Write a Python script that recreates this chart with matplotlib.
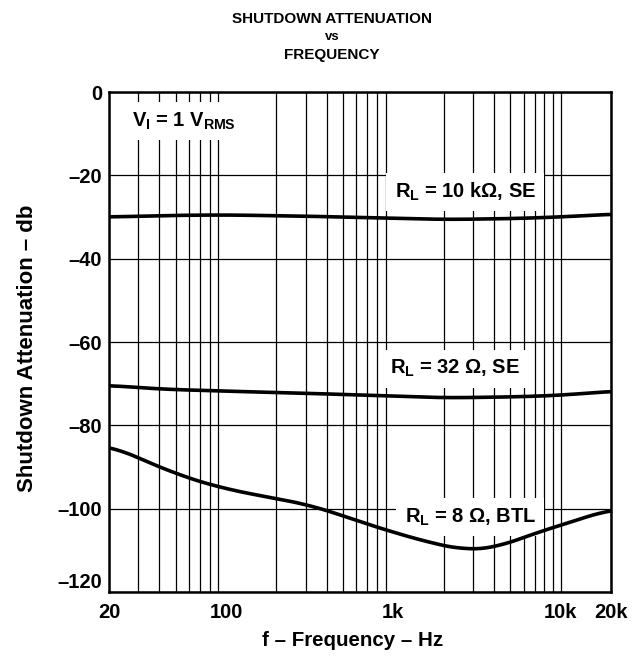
import numpy as np
import matplotlib
matplotlib.use("Agg")
import matplotlib.pyplot as plt
from matplotlib.ticker import FixedLocator, NullFormatter, NullLocator

plt.rcParams['font.family'] = ['Liberation Sans', 'DejaVu Sans']
plt.rcParams['font.weight'] = 'bold'
plt.rcParams['axes.labelweight'] = 'bold'
plt.rcParams['mathtext.fontset'] = 'custom'
plt.rcParams['mathtext.rm'] = 'Liberation Sans:bold'
plt.rcParams['mathtext.it'] = 'Liberation Sans:bold'
plt.rcParams['mathtext.bf'] = 'Liberation Sans:bold'

# data
f_10k = [20, 50, 100, 300, 1000, 2000, 5000, 10000, 20000]
db_10k = [-30.0, -29.6, -29.5, -29.8, -30.3, -30.6, -30.4, -30.0, -29.3]

f_32 = [20, 40, 100, 300, 1000, 2000, 5000, 10000, 20000]
db_32 = [-70.4, -71.3, -71.8, -72.3, -73.0, -73.4, -73.2, -72.8, -71.8]

f_8 = [20, 30, 40, 51, 70, 100, 200, 317, 481, 893, 1740, 2750, 4000, 7890, 13700, 20000]
db_8 = [-84.7, -87.9, -89.9, -91.8, -93.5, -95.3, -97.6, -99.1, -101.5, -105.1,
        -108.4, -110.0, -109.5, -105.2, -102.3, -100.0]

x_ticks = [20, 100, 1000, 10000, 20000]
x_ticklabels = ['20', '100', '1k', '10k', '20k']
y_ticks = [0, -20, -40, -60, -80, -100, -120]
y_ticklabels = ['0', '–20', '–40', '–60', '–80', '–100', '–120']

fig = plt.figure(figsize=(6.44, 6.57), dpi=100)
ax = fig.add_axes([109/644, 65/657, 502/644, 500/657])

ax.set_xscale('log')
ax.set_xlim(20, 20000)
ax.set_ylim(-120, 0)

# vertical grid on every log decade step
grid_x = [v * d for d in (10, 100, 1000) for v in range(2, 10)] + [10000, 20000]
grid_x = [g for g in grid_x if 20 <= g <= 20000]
for g in grid_x:
    ax.axvline(g, color='black', lw=0.9, zorder=1)
for g in y_ticks:
    ax.axhline(g, color='black', lw=0.9, zorder=1)

for fx, dy in ((f_10k, db_10k), (f_32, db_32), (f_8, db_8)):
    xs = np.log10(fx)
    xx = np.linspace(xs[0], xs[-1], 300)
    yy = np.interp(xx, xs, dy)
    # light smoothing for a drawn-curve look
    k = 15
    yp = np.pad(yy, k, mode='edge')
    yy = np.convolve(yp, np.ones(2*k+1)/(2*k+1), mode='valid')
    ax.plot(10**xx, yy, color='black', lw=2.6, zorder=3, solid_capstyle='butt')

ax.xaxis.set_major_locator(FixedLocator(x_ticks))
ax.xaxis.set_minor_locator(NullLocator())
ax.xaxis.set_minor_formatter(NullFormatter())
ax.set_xticklabels(x_ticklabels)
ax.set_yticks(y_ticks)
ax.set_yticklabels(y_ticklabels)
ax.tick_params(length=0, labelsize=14.5, pad=5)
ax.tick_params(axis='x', pad=8)
yl = ax.get_yticklabels()
yl[-1].set_va('bottom')

for s in ax.spines.values():
    s.set_linewidth(1.8)
    s.set_zorder(4)

box = dict(facecolor='white', edgecolor='none', pad=6)
ax.text(27.5, -7, r'$V_I$ = 1 $V_{RMS}$', fontsize=14.5, ha='left', va='center', bbox=box, zorder=2)
ax.text(2690, -24.0, r'$R_L$ = 10 kΩ, SE', fontsize=14.5, ha='center', va='center', bbox=box, zorder=2)
ax.text(2340, -66.4, r'$R_L$ = 32 Ω, SE', fontsize=14.5, ha='center', va='center', bbox=box, zorder=2)
ax.text(2880, -102.0, r'$R_L$ = 8 Ω, BTL', fontsize=14.5, ha='center', va='center', bbox=box, zorder=2)

fig.text(332/644, 1 - 19/657, 'SHUTDOWN ATTENUATION', ha='center', va='center', fontsize=11)
fig.text(332/644, 1 - 37/657, 'vs', ha='center', va='center', fontsize=9.5)
fig.text(332/644, 1 - 55/657, 'FREQUENCY', ha='center', va='center', fontsize=11)

ax.set_xlabel('f – Frequency – Hz', fontsize=14.8)
ax.set_ylabel('Shutdown Attenuation – db', fontsize=16)
ax.xaxis.set_label_coords(0.485, -0.078)
ax.yaxis.set_label_coords(-0.142, 0.488)

fig.savefig('out.png', dpi=100)
